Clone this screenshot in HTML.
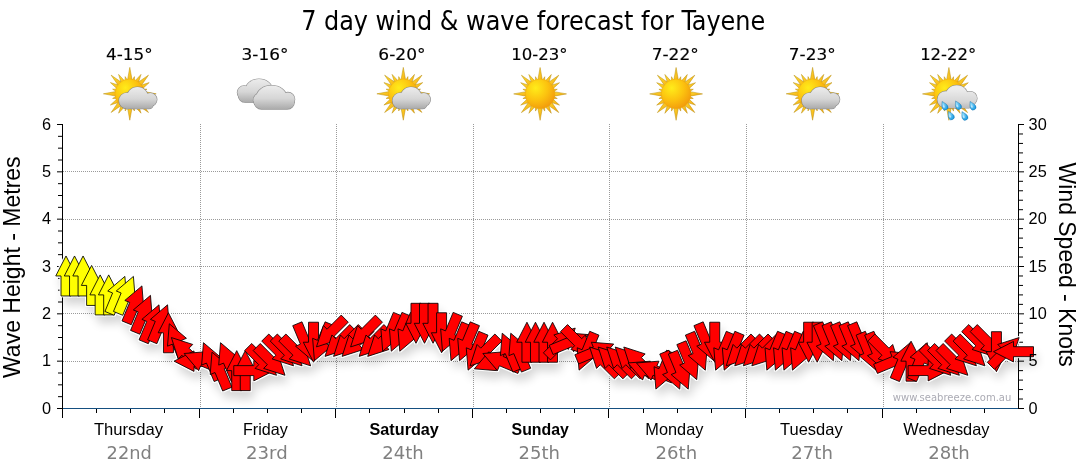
<!DOCTYPE html><html><head><meta charset="utf-8"><title>7 day wind &amp; wave forecast for Tayene</title>
<style>html,body{margin:0;padding:0;background:#fff;}body{width:1080px;height:475px;overflow:hidden;}svg{display:block;}text{font-family:"DejaVu Sans",sans-serif;}.ar{font-family:"Liberation Sans",Arial,sans-serif;}.cond{font-family:"DejaVu Sans",sans-serif;font-stretch:condensed;}</style></head><body>
<svg width="1080" height="475" viewBox="0 0 1080 475">
<defs>
<radialGradient id="sunD" cx="0.35" cy="0.3" r="0.75"><stop offset="0" stop-color="#ffec1a"/><stop offset="0.55" stop-color="#fcc20f"/><stop offset="1" stop-color="#f29a0c"/></radialGradient>
<linearGradient id="rayG" x1="0" y1="0" x2="1" y2="1"><stop offset="0" stop-color="#fde032"/><stop offset="1" stop-color="#f5a50f"/></linearGradient>
<linearGradient id="cloudG" x1="0" y1="0" x2="0" y2="1"><stop offset="0" stop-color="#f4f4f4"/><stop offset="0.6" stop-color="#cfcfcf"/><stop offset="1" stop-color="#a9a9a9"/></linearGradient>
<radialGradient id="dropG" cx="0.4" cy="0.35" r="0.7"><stop offset="0" stop-color="#9be2ff"/><stop offset="1" stop-color="#0e94e0"/></radialGradient>
<filter id="shd" x="-5%" y="-30%" width="110%" height="180%" color-interpolation-filters="sRGB"><feGaussianBlur in="SourceAlpha" stdDeviation="5"/><feOffset dx="3" dy="8" result="b"/><feComponentTransfer in="b" result="c"><feFuncA type="linear" slope="0.17"/></feComponentTransfer><feMorphology in="SourceAlpha" operator="dilate" radius="0.8" result="d"/><feFlood flood-color="#ffffff"/><feComposite in2="d" operator="in" result="h"/><feMerge><feMergeNode in="c"/><feMergeNode in="h"/><feMergeNode in="SourceGraphic"/></feMerge></filter>
</defs>
<text x="533.2" y="29.9" text-anchor="middle" class="cond" font-size="27.3" textLength="464" lengthAdjust="spacingAndGlyphs" fill="#000">7 day wind &amp; wave forecast for Tayene</text>
<text x="129.3" y="59.6" text-anchor="middle" font-size="16.3" stroke="#000" stroke-width="0.15" textLength="46.6" lengthAdjust="spacingAndGlyphs" fill="#000">4-15°</text>
<text x="265.0" y="59.6" text-anchor="middle" font-size="16.3" stroke="#000" stroke-width="0.15" textLength="46.8" lengthAdjust="spacingAndGlyphs" fill="#000">3-16°</text>
<text x="401.9" y="59.6" text-anchor="middle" font-size="16.3" stroke="#000" stroke-width="0.15" textLength="47.2" lengthAdjust="spacingAndGlyphs" fill="#000">6-20°</text>
<text x="539.4" y="59.6" text-anchor="middle" font-size="16.3" stroke="#000" stroke-width="0.15" textLength="56.3" lengthAdjust="spacingAndGlyphs" fill="#000">10-23°</text>
<text x="675.2" y="59.6" text-anchor="middle" font-size="16.3" stroke="#000" stroke-width="0.15" textLength="47.0" lengthAdjust="spacingAndGlyphs" fill="#000">7-22°</text>
<text x="812.2" y="59.6" text-anchor="middle" font-size="16.3" stroke="#000" stroke-width="0.15" textLength="46.8" lengthAdjust="spacingAndGlyphs" fill="#000">7-23°</text>
<text x="948.2" y="59.6" text-anchor="middle" font-size="16.3" stroke="#000" stroke-width="0.15" textLength="56.1" lengthAdjust="spacingAndGlyphs" fill="#000">12-22°</text>
<polygon points="132.80,83.80 129.80,67.40 126.80,83.80" fill="url(#rayG)" stroke="#b88a08" stroke-width="0.7" stroke-opacity="0.7" stroke-linejoin="round"/><polygon points="134.51,84.71 134.41,76.61 130.26,83.57" fill="url(#rayG)" stroke="#b88a08" stroke-width="0.7" stroke-opacity="0.7" stroke-linejoin="round"/><polygon points="137.22,86.54 141.00,74.40 132.38,83.74" fill="url(#rayG)" stroke="#b88a08" stroke-width="0.7" stroke-opacity="0.7" stroke-linejoin="round"/><polygon points="138.99,88.85 148.47,75.13 134.75,84.61" fill="url(#rayG)" stroke="#b88a08" stroke-width="0.7" stroke-opacity="0.7" stroke-linejoin="round"/><polygon points="139.86,91.22 149.20,82.60 137.06,86.38" fill="url(#rayG)" stroke="#b88a08" stroke-width="0.7" stroke-opacity="0.7" stroke-linejoin="round"/><polygon points="140.03,93.34 146.99,89.19 138.89,89.09" fill="url(#rayG)" stroke="#b88a08" stroke-width="0.7" stroke-opacity="0.7" stroke-linejoin="round"/><polygon points="139.80,96.80 156.20,93.80 139.80,90.80" fill="url(#rayG)" stroke="#b88a08" stroke-width="0.7" stroke-opacity="0.7" stroke-linejoin="round"/><polygon points="138.89,98.51 146.99,98.41 140.03,94.26" fill="url(#rayG)" stroke="#b88a08" stroke-width="0.7" stroke-opacity="0.7" stroke-linejoin="round"/><polygon points="137.06,101.22 149.20,105.00 139.86,96.38" fill="url(#rayG)" stroke="#b88a08" stroke-width="0.7" stroke-opacity="0.7" stroke-linejoin="round"/><polygon points="134.75,102.99 148.47,112.47 138.99,98.75" fill="url(#rayG)" stroke="#b88a08" stroke-width="0.7" stroke-opacity="0.7" stroke-linejoin="round"/><polygon points="132.38,103.86 141.00,113.20 137.22,101.06" fill="url(#rayG)" stroke="#b88a08" stroke-width="0.7" stroke-opacity="0.7" stroke-linejoin="round"/><polygon points="130.26,104.03 134.41,110.99 134.51,102.89" fill="url(#rayG)" stroke="#b88a08" stroke-width="0.7" stroke-opacity="0.7" stroke-linejoin="round"/><polygon points="126.80,103.80 129.80,120.20 132.80,103.80" fill="url(#rayG)" stroke="#b88a08" stroke-width="0.7" stroke-opacity="0.7" stroke-linejoin="round"/><polygon points="125.09,102.89 125.19,110.99 129.34,104.03" fill="url(#rayG)" stroke="#b88a08" stroke-width="0.7" stroke-opacity="0.7" stroke-linejoin="round"/><polygon points="122.38,101.06 118.60,113.20 127.22,103.86" fill="url(#rayG)" stroke="#b88a08" stroke-width="0.7" stroke-opacity="0.7" stroke-linejoin="round"/><polygon points="120.61,98.75 111.13,112.47 124.85,102.99" fill="url(#rayG)" stroke="#b88a08" stroke-width="0.7" stroke-opacity="0.7" stroke-linejoin="round"/><polygon points="119.74,96.38 110.40,105.00 122.54,101.22" fill="url(#rayG)" stroke="#b88a08" stroke-width="0.7" stroke-opacity="0.7" stroke-linejoin="round"/><polygon points="119.57,94.26 112.61,98.41 120.71,98.51" fill="url(#rayG)" stroke="#b88a08" stroke-width="0.7" stroke-opacity="0.7" stroke-linejoin="round"/><polygon points="119.80,90.80 103.40,93.80 119.80,96.80" fill="url(#rayG)" stroke="#b88a08" stroke-width="0.7" stroke-opacity="0.7" stroke-linejoin="round"/><polygon points="120.71,89.09 112.61,89.19 119.57,93.34" fill="url(#rayG)" stroke="#b88a08" stroke-width="0.7" stroke-opacity="0.7" stroke-linejoin="round"/><polygon points="122.54,86.38 110.40,82.60 119.74,91.22" fill="url(#rayG)" stroke="#b88a08" stroke-width="0.7" stroke-opacity="0.7" stroke-linejoin="round"/><polygon points="124.85,84.61 111.13,75.13 120.61,88.85" fill="url(#rayG)" stroke="#b88a08" stroke-width="0.7" stroke-opacity="0.7" stroke-linejoin="round"/><polygon points="127.22,83.74 118.60,74.40 122.38,86.54" fill="url(#rayG)" stroke="#b88a08" stroke-width="0.7" stroke-opacity="0.7" stroke-linejoin="round"/><polygon points="129.34,83.57 125.19,76.61 125.09,84.71" fill="url(#rayG)" stroke="#b88a08" stroke-width="0.7" stroke-opacity="0.7" stroke-linejoin="round"/><circle cx="129.8" cy="93.8" r="14.8" fill="url(#sunD)" stroke="#e8a010" stroke-width="0.6" stroke-opacity="0.6"/><linearGradient id="cg1" gradientUnits="userSpaceOnUse" x1="0" y1="87.0" x2="0" y2="108.7"><stop offset="0" stop-color="#ececec"/><stop offset="0.55" stop-color="#d6d6d6"/><stop offset="1" stop-color="#ababab"/></linearGradient><g fill="#808080" stroke="#808080" stroke-width="1.15" stroke-opacity="0.85"><circle cx="127.0" cy="100.7" r="8.0"/><circle cx="137.5" cy="97.8" r="10.8"/><circle cx="150.3" cy="99.6" r="6.6"/><rect x="124.0" y="99.0" width="29.0" height="9.7" rx="4"/></g><g fill="url(#cg1)"><circle cx="127.0" cy="100.7" r="8.0"/><circle cx="137.5" cy="97.8" r="10.8"/><circle cx="150.3" cy="99.6" r="6.6"/><rect x="124.0" y="99.0" width="29.0" height="9.7" rx="4"/></g>
<linearGradient id="cg2" gradientUnits="userSpaceOnUse" x1="0" y1="79.1" x2="0" y2="102.3"><stop offset="0" stop-color="#ececec"/><stop offset="0.55" stop-color="#d6d6d6"/><stop offset="1" stop-color="#ababab"/></linearGradient><g fill="#808080" stroke="#808080" stroke-width="1.15" stroke-opacity="0.85"><rect x="238.30" y="86.99" width="36.20" height="15.31" rx="6.96"/><ellipse cx="258.93" cy="89.54" rx="13.39" ry="10.44"/><circle cx="244.09" cy="92.56" r="6.73"/><circle cx="269.07" cy="93.48" r="6.96"/></g><g fill="url(#cg2)"><rect x="238.30" y="86.99" width="36.20" height="15.31" rx="6.96"/><ellipse cx="258.93" cy="89.54" rx="13.39" ry="10.44"/><circle cx="244.09" cy="92.56" r="6.73"/><circle cx="269.07" cy="93.48" r="6.96"/></g><linearGradient id="cg3" gradientUnits="userSpaceOnUse" x1="0" y1="85.6" x2="0" y2="109.1"><stop offset="0" stop-color="#ececec"/><stop offset="0.55" stop-color="#d6d6d6"/><stop offset="1" stop-color="#ababab"/></linearGradient><g fill="#808080" stroke="#808080" stroke-width="1.15" stroke-opacity="0.85"><rect x="254.40" y="93.59" width="39.90" height="15.51" rx="7.05"/><ellipse cx="271.56" cy="96.17" rx="14.76" ry="10.58"/><circle cx="287.92" cy="99.23" r="6.81"/><circle cx="260.38" cy="100.17" r="7.05"/></g><g fill="url(#cg3)"><rect x="254.40" y="93.59" width="39.90" height="15.51" rx="7.05"/><ellipse cx="271.56" cy="96.17" rx="14.76" ry="10.58"/><circle cx="287.92" cy="99.23" r="6.81"/><circle cx="260.38" cy="100.17" r="7.05"/></g>
<polygon points="406.30,83.80 403.30,67.40 400.30,83.80" fill="url(#rayG)" stroke="#b88a08" stroke-width="0.7" stroke-opacity="0.7" stroke-linejoin="round"/><polygon points="408.01,84.71 407.91,76.61 403.76,83.57" fill="url(#rayG)" stroke="#b88a08" stroke-width="0.7" stroke-opacity="0.7" stroke-linejoin="round"/><polygon points="410.72,86.54 414.50,74.40 405.88,83.74" fill="url(#rayG)" stroke="#b88a08" stroke-width="0.7" stroke-opacity="0.7" stroke-linejoin="round"/><polygon points="412.49,88.85 421.97,75.13 408.25,84.61" fill="url(#rayG)" stroke="#b88a08" stroke-width="0.7" stroke-opacity="0.7" stroke-linejoin="round"/><polygon points="413.36,91.22 422.70,82.60 410.56,86.38" fill="url(#rayG)" stroke="#b88a08" stroke-width="0.7" stroke-opacity="0.7" stroke-linejoin="round"/><polygon points="413.53,93.34 420.49,89.19 412.39,89.09" fill="url(#rayG)" stroke="#b88a08" stroke-width="0.7" stroke-opacity="0.7" stroke-linejoin="round"/><polygon points="413.30,96.80 429.70,93.80 413.30,90.80" fill="url(#rayG)" stroke="#b88a08" stroke-width="0.7" stroke-opacity="0.7" stroke-linejoin="round"/><polygon points="412.39,98.51 420.49,98.41 413.53,94.26" fill="url(#rayG)" stroke="#b88a08" stroke-width="0.7" stroke-opacity="0.7" stroke-linejoin="round"/><polygon points="410.56,101.22 422.70,105.00 413.36,96.38" fill="url(#rayG)" stroke="#b88a08" stroke-width="0.7" stroke-opacity="0.7" stroke-linejoin="round"/><polygon points="408.25,102.99 421.97,112.47 412.49,98.75" fill="url(#rayG)" stroke="#b88a08" stroke-width="0.7" stroke-opacity="0.7" stroke-linejoin="round"/><polygon points="405.88,103.86 414.50,113.20 410.72,101.06" fill="url(#rayG)" stroke="#b88a08" stroke-width="0.7" stroke-opacity="0.7" stroke-linejoin="round"/><polygon points="403.76,104.03 407.91,110.99 408.01,102.89" fill="url(#rayG)" stroke="#b88a08" stroke-width="0.7" stroke-opacity="0.7" stroke-linejoin="round"/><polygon points="400.30,103.80 403.30,120.20 406.30,103.80" fill="url(#rayG)" stroke="#b88a08" stroke-width="0.7" stroke-opacity="0.7" stroke-linejoin="round"/><polygon points="398.59,102.89 398.69,110.99 402.84,104.03" fill="url(#rayG)" stroke="#b88a08" stroke-width="0.7" stroke-opacity="0.7" stroke-linejoin="round"/><polygon points="395.88,101.06 392.10,113.20 400.72,103.86" fill="url(#rayG)" stroke="#b88a08" stroke-width="0.7" stroke-opacity="0.7" stroke-linejoin="round"/><polygon points="394.11,98.75 384.63,112.47 398.35,102.99" fill="url(#rayG)" stroke="#b88a08" stroke-width="0.7" stroke-opacity="0.7" stroke-linejoin="round"/><polygon points="393.24,96.38 383.90,105.00 396.04,101.22" fill="url(#rayG)" stroke="#b88a08" stroke-width="0.7" stroke-opacity="0.7" stroke-linejoin="round"/><polygon points="393.07,94.26 386.11,98.41 394.21,98.51" fill="url(#rayG)" stroke="#b88a08" stroke-width="0.7" stroke-opacity="0.7" stroke-linejoin="round"/><polygon points="393.30,90.80 376.90,93.80 393.30,96.80" fill="url(#rayG)" stroke="#b88a08" stroke-width="0.7" stroke-opacity="0.7" stroke-linejoin="round"/><polygon points="394.21,89.09 386.11,89.19 393.07,93.34" fill="url(#rayG)" stroke="#b88a08" stroke-width="0.7" stroke-opacity="0.7" stroke-linejoin="round"/><polygon points="396.04,86.38 383.90,82.60 393.24,91.22" fill="url(#rayG)" stroke="#b88a08" stroke-width="0.7" stroke-opacity="0.7" stroke-linejoin="round"/><polygon points="398.35,84.61 384.63,75.13 394.11,88.85" fill="url(#rayG)" stroke="#b88a08" stroke-width="0.7" stroke-opacity="0.7" stroke-linejoin="round"/><polygon points="400.72,83.74 392.10,74.40 395.88,86.54" fill="url(#rayG)" stroke="#b88a08" stroke-width="0.7" stroke-opacity="0.7" stroke-linejoin="round"/><polygon points="402.84,83.57 398.69,76.61 398.59,84.71" fill="url(#rayG)" stroke="#b88a08" stroke-width="0.7" stroke-opacity="0.7" stroke-linejoin="round"/><circle cx="403.3" cy="93.8" r="14.8" fill="url(#sunD)" stroke="#e8a010" stroke-width="0.6" stroke-opacity="0.6"/><linearGradient id="cg4" gradientUnits="userSpaceOnUse" x1="0" y1="87.0" x2="0" y2="108.7"><stop offset="0" stop-color="#ececec"/><stop offset="0.55" stop-color="#d6d6d6"/><stop offset="1" stop-color="#ababab"/></linearGradient><g fill="#808080" stroke="#808080" stroke-width="1.15" stroke-opacity="0.85"><circle cx="400.5" cy="100.7" r="8.0"/><circle cx="411.0" cy="97.8" r="10.8"/><circle cx="423.8" cy="99.6" r="6.6"/><rect x="397.5" y="99.0" width="29.0" height="9.7" rx="4"/></g><g fill="url(#cg4)"><circle cx="400.5" cy="100.7" r="8.0"/><circle cx="411.0" cy="97.8" r="10.8"/><circle cx="423.8" cy="99.6" r="6.6"/><rect x="397.5" y="99.0" width="29.0" height="9.7" rx="4"/></g>
<polygon points="543.10,83.90 540.10,67.50 537.10,83.90" fill="url(#rayG)" stroke="#b88a08" stroke-width="0.7" stroke-opacity="0.7" stroke-linejoin="round"/><polygon points="544.81,84.81 544.71,76.71 540.56,83.67" fill="url(#rayG)" stroke="#b88a08" stroke-width="0.7" stroke-opacity="0.7" stroke-linejoin="round"/><polygon points="547.52,86.64 551.30,74.50 542.68,83.84" fill="url(#rayG)" stroke="#b88a08" stroke-width="0.7" stroke-opacity="0.7" stroke-linejoin="round"/><polygon points="549.29,88.95 558.77,75.23 545.05,84.71" fill="url(#rayG)" stroke="#b88a08" stroke-width="0.7" stroke-opacity="0.7" stroke-linejoin="round"/><polygon points="550.16,91.32 559.50,82.70 547.36,86.48" fill="url(#rayG)" stroke="#b88a08" stroke-width="0.7" stroke-opacity="0.7" stroke-linejoin="round"/><polygon points="550.33,93.44 557.29,89.29 549.19,89.19" fill="url(#rayG)" stroke="#b88a08" stroke-width="0.7" stroke-opacity="0.7" stroke-linejoin="round"/><polygon points="550.10,96.90 566.50,93.90 550.10,90.90" fill="url(#rayG)" stroke="#b88a08" stroke-width="0.7" stroke-opacity="0.7" stroke-linejoin="round"/><polygon points="549.19,98.61 557.29,98.51 550.33,94.36" fill="url(#rayG)" stroke="#b88a08" stroke-width="0.7" stroke-opacity="0.7" stroke-linejoin="round"/><polygon points="547.36,101.32 559.50,105.10 550.16,96.48" fill="url(#rayG)" stroke="#b88a08" stroke-width="0.7" stroke-opacity="0.7" stroke-linejoin="round"/><polygon points="545.05,103.09 558.77,112.57 549.29,98.85" fill="url(#rayG)" stroke="#b88a08" stroke-width="0.7" stroke-opacity="0.7" stroke-linejoin="round"/><polygon points="542.68,103.96 551.30,113.30 547.52,101.16" fill="url(#rayG)" stroke="#b88a08" stroke-width="0.7" stroke-opacity="0.7" stroke-linejoin="round"/><polygon points="540.56,104.13 544.71,111.09 544.81,102.99" fill="url(#rayG)" stroke="#b88a08" stroke-width="0.7" stroke-opacity="0.7" stroke-linejoin="round"/><polygon points="537.10,103.90 540.10,120.30 543.10,103.90" fill="url(#rayG)" stroke="#b88a08" stroke-width="0.7" stroke-opacity="0.7" stroke-linejoin="round"/><polygon points="535.39,102.99 535.49,111.09 539.64,104.13" fill="url(#rayG)" stroke="#b88a08" stroke-width="0.7" stroke-opacity="0.7" stroke-linejoin="round"/><polygon points="532.68,101.16 528.90,113.30 537.52,103.96" fill="url(#rayG)" stroke="#b88a08" stroke-width="0.7" stroke-opacity="0.7" stroke-linejoin="round"/><polygon points="530.91,98.85 521.43,112.57 535.15,103.09" fill="url(#rayG)" stroke="#b88a08" stroke-width="0.7" stroke-opacity="0.7" stroke-linejoin="round"/><polygon points="530.04,96.48 520.70,105.10 532.84,101.32" fill="url(#rayG)" stroke="#b88a08" stroke-width="0.7" stroke-opacity="0.7" stroke-linejoin="round"/><polygon points="529.87,94.36 522.91,98.51 531.01,98.61" fill="url(#rayG)" stroke="#b88a08" stroke-width="0.7" stroke-opacity="0.7" stroke-linejoin="round"/><polygon points="530.10,90.90 513.70,93.90 530.10,96.90" fill="url(#rayG)" stroke="#b88a08" stroke-width="0.7" stroke-opacity="0.7" stroke-linejoin="round"/><polygon points="531.01,89.19 522.91,89.29 529.87,93.44" fill="url(#rayG)" stroke="#b88a08" stroke-width="0.7" stroke-opacity="0.7" stroke-linejoin="round"/><polygon points="532.84,86.48 520.70,82.70 530.04,91.32" fill="url(#rayG)" stroke="#b88a08" stroke-width="0.7" stroke-opacity="0.7" stroke-linejoin="round"/><polygon points="535.15,84.71 521.43,75.23 530.91,88.95" fill="url(#rayG)" stroke="#b88a08" stroke-width="0.7" stroke-opacity="0.7" stroke-linejoin="round"/><polygon points="537.52,83.84 528.90,74.50 532.68,86.64" fill="url(#rayG)" stroke="#b88a08" stroke-width="0.7" stroke-opacity="0.7" stroke-linejoin="round"/><polygon points="539.64,83.67 535.49,76.71 535.39,84.81" fill="url(#rayG)" stroke="#b88a08" stroke-width="0.7" stroke-opacity="0.7" stroke-linejoin="round"/><circle cx="540.1" cy="93.9" r="14.8" fill="url(#sunD)" stroke="#e8a010" stroke-width="0.6" stroke-opacity="0.6"/>
<polygon points="679.10,83.90 676.10,67.50 673.10,83.90" fill="url(#rayG)" stroke="#b88a08" stroke-width="0.7" stroke-opacity="0.7" stroke-linejoin="round"/><polygon points="680.81,84.81 680.71,76.71 676.56,83.67" fill="url(#rayG)" stroke="#b88a08" stroke-width="0.7" stroke-opacity="0.7" stroke-linejoin="round"/><polygon points="683.52,86.64 687.30,74.50 678.68,83.84" fill="url(#rayG)" stroke="#b88a08" stroke-width="0.7" stroke-opacity="0.7" stroke-linejoin="round"/><polygon points="685.29,88.95 694.77,75.23 681.05,84.71" fill="url(#rayG)" stroke="#b88a08" stroke-width="0.7" stroke-opacity="0.7" stroke-linejoin="round"/><polygon points="686.16,91.32 695.50,82.70 683.36,86.48" fill="url(#rayG)" stroke="#b88a08" stroke-width="0.7" stroke-opacity="0.7" stroke-linejoin="round"/><polygon points="686.33,93.44 693.29,89.29 685.19,89.19" fill="url(#rayG)" stroke="#b88a08" stroke-width="0.7" stroke-opacity="0.7" stroke-linejoin="round"/><polygon points="686.10,96.90 702.50,93.90 686.10,90.90" fill="url(#rayG)" stroke="#b88a08" stroke-width="0.7" stroke-opacity="0.7" stroke-linejoin="round"/><polygon points="685.19,98.61 693.29,98.51 686.33,94.36" fill="url(#rayG)" stroke="#b88a08" stroke-width="0.7" stroke-opacity="0.7" stroke-linejoin="round"/><polygon points="683.36,101.32 695.50,105.10 686.16,96.48" fill="url(#rayG)" stroke="#b88a08" stroke-width="0.7" stroke-opacity="0.7" stroke-linejoin="round"/><polygon points="681.05,103.09 694.77,112.57 685.29,98.85" fill="url(#rayG)" stroke="#b88a08" stroke-width="0.7" stroke-opacity="0.7" stroke-linejoin="round"/><polygon points="678.68,103.96 687.30,113.30 683.52,101.16" fill="url(#rayG)" stroke="#b88a08" stroke-width="0.7" stroke-opacity="0.7" stroke-linejoin="round"/><polygon points="676.56,104.13 680.71,111.09 680.81,102.99" fill="url(#rayG)" stroke="#b88a08" stroke-width="0.7" stroke-opacity="0.7" stroke-linejoin="round"/><polygon points="673.10,103.90 676.10,120.30 679.10,103.90" fill="url(#rayG)" stroke="#b88a08" stroke-width="0.7" stroke-opacity="0.7" stroke-linejoin="round"/><polygon points="671.39,102.99 671.49,111.09 675.64,104.13" fill="url(#rayG)" stroke="#b88a08" stroke-width="0.7" stroke-opacity="0.7" stroke-linejoin="round"/><polygon points="668.68,101.16 664.90,113.30 673.52,103.96" fill="url(#rayG)" stroke="#b88a08" stroke-width="0.7" stroke-opacity="0.7" stroke-linejoin="round"/><polygon points="666.91,98.85 657.43,112.57 671.15,103.09" fill="url(#rayG)" stroke="#b88a08" stroke-width="0.7" stroke-opacity="0.7" stroke-linejoin="round"/><polygon points="666.04,96.48 656.70,105.10 668.84,101.32" fill="url(#rayG)" stroke="#b88a08" stroke-width="0.7" stroke-opacity="0.7" stroke-linejoin="round"/><polygon points="665.87,94.36 658.91,98.51 667.01,98.61" fill="url(#rayG)" stroke="#b88a08" stroke-width="0.7" stroke-opacity="0.7" stroke-linejoin="round"/><polygon points="666.10,90.90 649.70,93.90 666.10,96.90" fill="url(#rayG)" stroke="#b88a08" stroke-width="0.7" stroke-opacity="0.7" stroke-linejoin="round"/><polygon points="667.01,89.19 658.91,89.29 665.87,93.44" fill="url(#rayG)" stroke="#b88a08" stroke-width="0.7" stroke-opacity="0.7" stroke-linejoin="round"/><polygon points="668.84,86.48 656.70,82.70 666.04,91.32" fill="url(#rayG)" stroke="#b88a08" stroke-width="0.7" stroke-opacity="0.7" stroke-linejoin="round"/><polygon points="671.15,84.71 657.43,75.23 666.91,88.95" fill="url(#rayG)" stroke="#b88a08" stroke-width="0.7" stroke-opacity="0.7" stroke-linejoin="round"/><polygon points="673.52,83.84 664.90,74.50 668.68,86.64" fill="url(#rayG)" stroke="#b88a08" stroke-width="0.7" stroke-opacity="0.7" stroke-linejoin="round"/><polygon points="675.64,83.67 671.49,76.71 671.39,84.81" fill="url(#rayG)" stroke="#b88a08" stroke-width="0.7" stroke-opacity="0.7" stroke-linejoin="round"/><circle cx="676.1" cy="93.9" r="14.8" fill="url(#sunD)" stroke="#e8a010" stroke-width="0.6" stroke-opacity="0.6"/>
<polygon points="815.60,83.80 812.60,67.40 809.60,83.80" fill="url(#rayG)" stroke="#b88a08" stroke-width="0.7" stroke-opacity="0.7" stroke-linejoin="round"/><polygon points="817.31,84.71 817.21,76.61 813.06,83.57" fill="url(#rayG)" stroke="#b88a08" stroke-width="0.7" stroke-opacity="0.7" stroke-linejoin="round"/><polygon points="820.02,86.54 823.80,74.40 815.18,83.74" fill="url(#rayG)" stroke="#b88a08" stroke-width="0.7" stroke-opacity="0.7" stroke-linejoin="round"/><polygon points="821.79,88.85 831.27,75.13 817.55,84.61" fill="url(#rayG)" stroke="#b88a08" stroke-width="0.7" stroke-opacity="0.7" stroke-linejoin="round"/><polygon points="822.66,91.22 832.00,82.60 819.86,86.38" fill="url(#rayG)" stroke="#b88a08" stroke-width="0.7" stroke-opacity="0.7" stroke-linejoin="round"/><polygon points="822.83,93.34 829.79,89.19 821.69,89.09" fill="url(#rayG)" stroke="#b88a08" stroke-width="0.7" stroke-opacity="0.7" stroke-linejoin="round"/><polygon points="822.60,96.80 839.00,93.80 822.60,90.80" fill="url(#rayG)" stroke="#b88a08" stroke-width="0.7" stroke-opacity="0.7" stroke-linejoin="round"/><polygon points="821.69,98.51 829.79,98.41 822.83,94.26" fill="url(#rayG)" stroke="#b88a08" stroke-width="0.7" stroke-opacity="0.7" stroke-linejoin="round"/><polygon points="819.86,101.22 832.00,105.00 822.66,96.38" fill="url(#rayG)" stroke="#b88a08" stroke-width="0.7" stroke-opacity="0.7" stroke-linejoin="round"/><polygon points="817.55,102.99 831.27,112.47 821.79,98.75" fill="url(#rayG)" stroke="#b88a08" stroke-width="0.7" stroke-opacity="0.7" stroke-linejoin="round"/><polygon points="815.18,103.86 823.80,113.20 820.02,101.06" fill="url(#rayG)" stroke="#b88a08" stroke-width="0.7" stroke-opacity="0.7" stroke-linejoin="round"/><polygon points="813.06,104.03 817.21,110.99 817.31,102.89" fill="url(#rayG)" stroke="#b88a08" stroke-width="0.7" stroke-opacity="0.7" stroke-linejoin="round"/><polygon points="809.60,103.80 812.60,120.20 815.60,103.80" fill="url(#rayG)" stroke="#b88a08" stroke-width="0.7" stroke-opacity="0.7" stroke-linejoin="round"/><polygon points="807.89,102.89 807.99,110.99 812.14,104.03" fill="url(#rayG)" stroke="#b88a08" stroke-width="0.7" stroke-opacity="0.7" stroke-linejoin="round"/><polygon points="805.18,101.06 801.40,113.20 810.02,103.86" fill="url(#rayG)" stroke="#b88a08" stroke-width="0.7" stroke-opacity="0.7" stroke-linejoin="round"/><polygon points="803.41,98.75 793.93,112.47 807.65,102.99" fill="url(#rayG)" stroke="#b88a08" stroke-width="0.7" stroke-opacity="0.7" stroke-linejoin="round"/><polygon points="802.54,96.38 793.20,105.00 805.34,101.22" fill="url(#rayG)" stroke="#b88a08" stroke-width="0.7" stroke-opacity="0.7" stroke-linejoin="round"/><polygon points="802.37,94.26 795.41,98.41 803.51,98.51" fill="url(#rayG)" stroke="#b88a08" stroke-width="0.7" stroke-opacity="0.7" stroke-linejoin="round"/><polygon points="802.60,90.80 786.20,93.80 802.60,96.80" fill="url(#rayG)" stroke="#b88a08" stroke-width="0.7" stroke-opacity="0.7" stroke-linejoin="round"/><polygon points="803.51,89.09 795.41,89.19 802.37,93.34" fill="url(#rayG)" stroke="#b88a08" stroke-width="0.7" stroke-opacity="0.7" stroke-linejoin="round"/><polygon points="805.34,86.38 793.20,82.60 802.54,91.22" fill="url(#rayG)" stroke="#b88a08" stroke-width="0.7" stroke-opacity="0.7" stroke-linejoin="round"/><polygon points="807.65,84.61 793.93,75.13 803.41,88.85" fill="url(#rayG)" stroke="#b88a08" stroke-width="0.7" stroke-opacity="0.7" stroke-linejoin="round"/><polygon points="810.02,83.74 801.40,74.40 805.18,86.54" fill="url(#rayG)" stroke="#b88a08" stroke-width="0.7" stroke-opacity="0.7" stroke-linejoin="round"/><polygon points="812.14,83.57 807.99,76.61 807.89,84.71" fill="url(#rayG)" stroke="#b88a08" stroke-width="0.7" stroke-opacity="0.7" stroke-linejoin="round"/><circle cx="812.6" cy="93.8" r="14.8" fill="url(#sunD)" stroke="#e8a010" stroke-width="0.6" stroke-opacity="0.6"/><linearGradient id="cg5" gradientUnits="userSpaceOnUse" x1="0" y1="87.0" x2="0" y2="108.7"><stop offset="0" stop-color="#ececec"/><stop offset="0.55" stop-color="#d6d6d6"/><stop offset="1" stop-color="#ababab"/></linearGradient><g fill="#808080" stroke="#808080" stroke-width="1.15" stroke-opacity="0.85"><circle cx="809.8" cy="100.7" r="8.0"/><circle cx="820.3" cy="97.8" r="10.8"/><circle cx="833.1" cy="99.6" r="6.6"/><rect x="806.8" y="99.0" width="29.0" height="9.7" rx="4"/></g><g fill="url(#cg5)"><circle cx="809.8" cy="100.7" r="8.0"/><circle cx="820.3" cy="97.8" r="10.8"/><circle cx="833.1" cy="99.6" r="6.6"/><rect x="806.8" y="99.0" width="29.0" height="9.7" rx="4"/></g>
<polygon points="951.90,83.90 948.90,67.50 945.90,83.90" fill="url(#rayG)" stroke="#b88a08" stroke-width="0.7" stroke-opacity="0.7" stroke-linejoin="round"/><polygon points="953.61,84.81 953.51,76.71 949.36,83.67" fill="url(#rayG)" stroke="#b88a08" stroke-width="0.7" stroke-opacity="0.7" stroke-linejoin="round"/><polygon points="956.32,86.64 960.10,74.50 951.48,83.84" fill="url(#rayG)" stroke="#b88a08" stroke-width="0.7" stroke-opacity="0.7" stroke-linejoin="round"/><polygon points="958.09,88.95 967.57,75.23 953.85,84.71" fill="url(#rayG)" stroke="#b88a08" stroke-width="0.7" stroke-opacity="0.7" stroke-linejoin="round"/><polygon points="958.96,91.32 968.30,82.70 956.16,86.48" fill="url(#rayG)" stroke="#b88a08" stroke-width="0.7" stroke-opacity="0.7" stroke-linejoin="round"/><polygon points="959.13,93.44 966.09,89.29 957.99,89.19" fill="url(#rayG)" stroke="#b88a08" stroke-width="0.7" stroke-opacity="0.7" stroke-linejoin="round"/><polygon points="958.90,96.90 975.30,93.90 958.90,90.90" fill="url(#rayG)" stroke="#b88a08" stroke-width="0.7" stroke-opacity="0.7" stroke-linejoin="round"/><polygon points="957.99,98.61 966.09,98.51 959.13,94.36" fill="url(#rayG)" stroke="#b88a08" stroke-width="0.7" stroke-opacity="0.7" stroke-linejoin="round"/><polygon points="956.16,101.32 968.30,105.10 958.96,96.48" fill="url(#rayG)" stroke="#b88a08" stroke-width="0.7" stroke-opacity="0.7" stroke-linejoin="round"/><polygon points="953.85,103.09 967.57,112.57 958.09,98.85" fill="url(#rayG)" stroke="#b88a08" stroke-width="0.7" stroke-opacity="0.7" stroke-linejoin="round"/><polygon points="951.48,103.96 960.10,113.30 956.32,101.16" fill="url(#rayG)" stroke="#b88a08" stroke-width="0.7" stroke-opacity="0.7" stroke-linejoin="round"/><polygon points="949.36,104.13 953.51,111.09 953.61,102.99" fill="url(#rayG)" stroke="#b88a08" stroke-width="0.7" stroke-opacity="0.7" stroke-linejoin="round"/><polygon points="945.90,103.90 948.90,120.30 951.90,103.90" fill="url(#rayG)" stroke="#b88a08" stroke-width="0.7" stroke-opacity="0.7" stroke-linejoin="round"/><polygon points="944.19,102.99 944.29,111.09 948.44,104.13" fill="url(#rayG)" stroke="#b88a08" stroke-width="0.7" stroke-opacity="0.7" stroke-linejoin="round"/><polygon points="941.48,101.16 937.70,113.30 946.32,103.96" fill="url(#rayG)" stroke="#b88a08" stroke-width="0.7" stroke-opacity="0.7" stroke-linejoin="round"/><polygon points="939.71,98.85 930.23,112.57 943.95,103.09" fill="url(#rayG)" stroke="#b88a08" stroke-width="0.7" stroke-opacity="0.7" stroke-linejoin="round"/><polygon points="938.84,96.48 929.50,105.10 941.64,101.32" fill="url(#rayG)" stroke="#b88a08" stroke-width="0.7" stroke-opacity="0.7" stroke-linejoin="round"/><polygon points="938.67,94.36 931.71,98.51 939.81,98.61" fill="url(#rayG)" stroke="#b88a08" stroke-width="0.7" stroke-opacity="0.7" stroke-linejoin="round"/><polygon points="938.90,90.90 922.50,93.90 938.90,96.90" fill="url(#rayG)" stroke="#b88a08" stroke-width="0.7" stroke-opacity="0.7" stroke-linejoin="round"/><polygon points="939.81,89.19 931.71,89.29 938.67,93.44" fill="url(#rayG)" stroke="#b88a08" stroke-width="0.7" stroke-opacity="0.7" stroke-linejoin="round"/><polygon points="941.64,86.48 929.50,82.70 938.84,91.32" fill="url(#rayG)" stroke="#b88a08" stroke-width="0.7" stroke-opacity="0.7" stroke-linejoin="round"/><polygon points="943.95,84.71 930.23,75.23 939.71,88.95" fill="url(#rayG)" stroke="#b88a08" stroke-width="0.7" stroke-opacity="0.7" stroke-linejoin="round"/><polygon points="946.32,83.84 937.70,74.50 941.48,86.64" fill="url(#rayG)" stroke="#b88a08" stroke-width="0.7" stroke-opacity="0.7" stroke-linejoin="round"/><polygon points="948.44,83.67 944.29,76.71 944.19,84.81" fill="url(#rayG)" stroke="#b88a08" stroke-width="0.7" stroke-opacity="0.7" stroke-linejoin="round"/><circle cx="948.9" cy="93.9" r="14.8" fill="url(#sunD)" stroke="#e8a010" stroke-width="0.6" stroke-opacity="0.6"/><linearGradient id="cg6" gradientUnits="userSpaceOnUse" x1="0" y1="89.115" x2="0" y2="111.7915"><stop offset="0" stop-color="#ececec"/><stop offset="0.55" stop-color="#d6d6d6"/><stop offset="1" stop-color="#ababab"/></linearGradient><g fill="#808080" stroke="#808080" stroke-width="1.15" stroke-opacity="0.85"><circle cx="945.76" cy="99.52" r="8.36"/><circle cx="956.73" cy="96.49" r="11.29"/><circle cx="970.11" cy="98.37" r="6.9"/><rect x="942.62" y="97.74" width="30.3" height="10.14" rx="4"/></g><g fill="url(#cg6)"><circle cx="945.76" cy="99.52" r="8.36"/><circle cx="956.73" cy="96.49" r="11.29"/><circle cx="970.11" cy="98.37" r="6.9"/><rect x="942.62" y="97.74" width="30.3" height="10.14" rx="4"/></g><g transform="translate(944.5,106) rotate(-28)"><path d="M0,-5.2 C1.2,-3 2.9,-1 2.9,1.3 A2.9,2.9 0 0 1 -2.9,1.3 C-2.9,-1 -1.2,-3 0,-5.2 Z" fill="url(#dropG)" stroke="#1a6aa0" stroke-width="0.5" stroke-opacity="0.7"/><ellipse cx="-0.9" cy="0.2" rx="0.9" ry="1.3" fill="#ffffff" fill-opacity="0.55"/></g><g transform="translate(958,105.5) rotate(-28)"><path d="M0,-5.2 C1.2,-3 2.9,-1 2.9,1.3 A2.9,2.9 0 0 1 -2.9,1.3 C-2.9,-1 -1.2,-3 0,-5.2 Z" fill="url(#dropG)" stroke="#1a6aa0" stroke-width="0.5" stroke-opacity="0.7"/><ellipse cx="-0.9" cy="0.2" rx="0.9" ry="1.3" fill="#ffffff" fill-opacity="0.55"/></g><g transform="translate(972.5,106) rotate(-28)"><path d="M0,-5.2 C1.2,-3 2.9,-1 2.9,1.3 A2.9,2.9 0 0 1 -2.9,1.3 C-2.9,-1 -1.2,-3 0,-5.2 Z" fill="url(#dropG)" stroke="#1a6aa0" stroke-width="0.5" stroke-opacity="0.7"/><ellipse cx="-0.9" cy="0.2" rx="0.9" ry="1.3" fill="#ffffff" fill-opacity="0.55"/></g><g transform="translate(950.8,115.8) rotate(-28)"><path d="M0,-5.2 C1.2,-3 2.9,-1 2.9,1.3 A2.9,2.9 0 0 1 -2.9,1.3 C-2.9,-1 -1.2,-3 0,-5.2 Z" fill="url(#dropG)" stroke="#1a6aa0" stroke-width="0.5" stroke-opacity="0.7"/><ellipse cx="-0.9" cy="0.2" rx="0.9" ry="1.3" fill="#ffffff" fill-opacity="0.55"/></g><g transform="translate(964.4,116.2) rotate(-28)"><path d="M0,-5.2 C1.2,-3 2.9,-1 2.9,1.3 A2.9,2.9 0 0 1 -2.9,1.3 C-2.9,-1 -1.2,-3 0,-5.2 Z" fill="url(#dropG)" stroke="#1a6aa0" stroke-width="0.5" stroke-opacity="0.7"/><ellipse cx="-0.9" cy="0.2" rx="0.9" ry="1.3" fill="#ffffff" fill-opacity="0.55"/></g>
<line x1="200.5" y1="124" x2="200.5" y2="407" stroke="#9a9a9a" stroke-width="1" stroke-dasharray="1,1"/>
<line x1="336.5" y1="124" x2="336.5" y2="407" stroke="#9a9a9a" stroke-width="1" stroke-dasharray="1,1"/>
<line x1="473.5" y1="124" x2="473.5" y2="407" stroke="#9a9a9a" stroke-width="1" stroke-dasharray="1,1"/>
<line x1="609.5" y1="124" x2="609.5" y2="407" stroke="#9a9a9a" stroke-width="1" stroke-dasharray="1,1"/>
<line x1="746.5" y1="124" x2="746.5" y2="407" stroke="#9a9a9a" stroke-width="1" stroke-dasharray="1,1"/>
<line x1="883.5" y1="124" x2="883.5" y2="407" stroke="#9a9a9a" stroke-width="1" stroke-dasharray="1,1"/>
<line x1="63" y1="361.5" x2="1018" y2="361.5" stroke="#9a9a9a" stroke-width="1" stroke-dasharray="1,1"/>
<line x1="63" y1="313.5" x2="1018" y2="313.5" stroke="#9a9a9a" stroke-width="1" stroke-dasharray="1,1"/>
<line x1="63" y1="266.5" x2="1018" y2="266.5" stroke="#9a9a9a" stroke-width="1" stroke-dasharray="1,1"/>
<line x1="63" y1="219.5" x2="1018" y2="219.5" stroke="#9a9a9a" stroke-width="1" stroke-dasharray="1,1"/>
<line x1="63" y1="171.5" x2="1018" y2="171.5" stroke="#9a9a9a" stroke-width="1" stroke-dasharray="1,1"/>
<text x="892.8" y="400.8" font-size="10.2" fill="#ababb4" textLength="118.5" lengthAdjust="spacingAndGlyphs">www.seabreeze.com.au</text>
<g stroke="#000" stroke-width="1" fill="none">
<line x1="62.5" y1="124" x2="62.5" y2="418"/>
<line x1="1018.5" y1="124" x2="1018.5" y2="409"/>
<line x1="57" y1="408.50" x2="62" y2="408.50"/>
<line x1="58" y1="396.67" x2="62" y2="396.67"/>
<line x1="58" y1="384.83" x2="62" y2="384.83"/>
<line x1="58" y1="373.00" x2="62" y2="373.00"/>
<line x1="57" y1="361.17" x2="62" y2="361.17"/>
<line x1="58" y1="349.33" x2="62" y2="349.33"/>
<line x1="58" y1="337.50" x2="62" y2="337.50"/>
<line x1="58" y1="325.67" x2="62" y2="325.67"/>
<line x1="57" y1="313.83" x2="62" y2="313.83"/>
<line x1="58" y1="302.00" x2="62" y2="302.00"/>
<line x1="58" y1="290.17" x2="62" y2="290.17"/>
<line x1="58" y1="278.33" x2="62" y2="278.33"/>
<line x1="57" y1="266.50" x2="62" y2="266.50"/>
<line x1="58" y1="254.67" x2="62" y2="254.67"/>
<line x1="58" y1="242.83" x2="62" y2="242.83"/>
<line x1="58" y1="231.00" x2="62" y2="231.00"/>
<line x1="57" y1="219.17" x2="62" y2="219.17"/>
<line x1="58" y1="207.33" x2="62" y2="207.33"/>
<line x1="58" y1="195.50" x2="62" y2="195.50"/>
<line x1="58" y1="183.67" x2="62" y2="183.67"/>
<line x1="57" y1="171.83" x2="62" y2="171.83"/>
<line x1="58" y1="160.00" x2="62" y2="160.00"/>
<line x1="58" y1="148.17" x2="62" y2="148.17"/>
<line x1="58" y1="136.33" x2="62" y2="136.33"/>
<line x1="57" y1="124.50" x2="62" y2="124.50"/>
<line x1="1019" y1="408.50" x2="1024" y2="408.50"/>
<line x1="1019" y1="399.03" x2="1023" y2="399.03"/>
<line x1="1019" y1="389.57" x2="1023" y2="389.57"/>
<line x1="1019" y1="380.10" x2="1023" y2="380.10"/>
<line x1="1019" y1="370.63" x2="1023" y2="370.63"/>
<line x1="1019" y1="361.17" x2="1024" y2="361.17"/>
<line x1="1019" y1="351.70" x2="1023" y2="351.70"/>
<line x1="1019" y1="342.23" x2="1023" y2="342.23"/>
<line x1="1019" y1="332.77" x2="1023" y2="332.77"/>
<line x1="1019" y1="323.30" x2="1023" y2="323.30"/>
<line x1="1019" y1="313.83" x2="1024" y2="313.83"/>
<line x1="1019" y1="304.37" x2="1023" y2="304.37"/>
<line x1="1019" y1="294.90" x2="1023" y2="294.90"/>
<line x1="1019" y1="285.43" x2="1023" y2="285.43"/>
<line x1="1019" y1="275.97" x2="1023" y2="275.97"/>
<line x1="1019" y1="266.50" x2="1024" y2="266.50"/>
<line x1="1019" y1="257.03" x2="1023" y2="257.03"/>
<line x1="1019" y1="247.57" x2="1023" y2="247.57"/>
<line x1="1019" y1="238.10" x2="1023" y2="238.10"/>
<line x1="1019" y1="228.63" x2="1023" y2="228.63"/>
<line x1="1019" y1="219.17" x2="1024" y2="219.17"/>
<line x1="1019" y1="209.70" x2="1023" y2="209.70"/>
<line x1="1019" y1="200.23" x2="1023" y2="200.23"/>
<line x1="1019" y1="190.77" x2="1023" y2="190.77"/>
<line x1="1019" y1="181.30" x2="1023" y2="181.30"/>
<line x1="1019" y1="171.83" x2="1024" y2="171.83"/>
<line x1="1019" y1="162.37" x2="1023" y2="162.37"/>
<line x1="1019" y1="152.90" x2="1023" y2="152.90"/>
<line x1="1019" y1="143.43" x2="1023" y2="143.43"/>
<line x1="1019" y1="133.97" x2="1023" y2="133.97"/>
<line x1="1019" y1="124.50" x2="1024" y2="124.50"/>
<line x1="96.5" y1="409" x2="96.5" y2="413"/>
<line x1="130.5" y1="409" x2="130.5" y2="413"/>
<line x1="164.5" y1="409" x2="164.5" y2="413"/>
<line x1="199.5" y1="409" x2="199.5" y2="418"/>
<line x1="233.5" y1="409" x2="233.5" y2="413"/>
<line x1="267.5" y1="409" x2="267.5" y2="413"/>
<line x1="301.5" y1="409" x2="301.5" y2="413"/>
<line x1="335.5" y1="409" x2="335.5" y2="418"/>
<line x1="369.5" y1="409" x2="369.5" y2="413"/>
<line x1="404.5" y1="409" x2="404.5" y2="413"/>
<line x1="438.5" y1="409" x2="438.5" y2="413"/>
<line x1="472.5" y1="409" x2="472.5" y2="418"/>
<line x1="506.5" y1="409" x2="506.5" y2="413"/>
<line x1="540.5" y1="409" x2="540.5" y2="413"/>
<line x1="574.5" y1="409" x2="574.5" y2="413"/>
<line x1="608.5" y1="409" x2="608.5" y2="418"/>
<line x1="643.5" y1="409" x2="643.5" y2="413"/>
<line x1="677.5" y1="409" x2="677.5" y2="413"/>
<line x1="711.5" y1="409" x2="711.5" y2="413"/>
<line x1="745.5" y1="409" x2="745.5" y2="418"/>
<line x1="779.5" y1="409" x2="779.5" y2="413"/>
<line x1="813.5" y1="409" x2="813.5" y2="413"/>
<line x1="847.5" y1="409" x2="847.5" y2="413"/>
<line x1="882.5" y1="409" x2="882.5" y2="418"/>
<line x1="916.5" y1="409" x2="916.5" y2="413"/>
<line x1="950.5" y1="409" x2="950.5" y2="413"/>
<line x1="984.5" y1="409" x2="984.5" y2="413"/>
</g>
<line x1="63" y1="408.5" x2="1018" y2="408.5" stroke="#154f80" stroke-width="1"/>
<g filter="url(#shd)">
<polygon points="66.00,255.97 76.25,275.97 71.00,275.97 71.00,295.97 61.00,295.97 61.00,275.97 55.75,275.97" fill="#ffff00" stroke="#000" stroke-width="0.85" stroke-linejoin="miter"/>
<polygon points="74.54,255.97 84.79,275.97 79.54,275.97 79.54,295.97 69.54,295.97 69.54,275.97 64.29,275.97" fill="#ffff00" stroke="#000" stroke-width="0.85" stroke-linejoin="miter"/>
<polygon points="83.07,255.97 93.32,275.97 88.07,275.97 88.07,295.97 78.07,295.97 78.07,275.97 72.82,275.97" fill="#ffff00" stroke="#000" stroke-width="0.85" stroke-linejoin="miter"/>
<polygon points="91.61,265.43 101.86,285.43 96.61,285.43 96.61,305.43 86.61,305.43 86.61,285.43 81.36,285.43" fill="#ffff00" stroke="#000" stroke-width="0.85" stroke-linejoin="miter"/>
<polygon points="100.14,274.90 110.39,294.90 105.14,294.90 105.14,314.90 95.14,314.90 95.14,294.90 89.89,294.90" fill="#ffff00" stroke="#000" stroke-width="0.85" stroke-linejoin="miter"/>
<polygon points="108.68,274.90 118.93,294.90 113.68,294.90 113.68,314.90 103.68,314.90 103.68,294.90 98.43,294.90" fill="#ffff00" stroke="#000" stroke-width="0.85" stroke-linejoin="miter"/>
<polygon points="124.87,276.42 126.69,298.82 121.84,296.81 114.18,315.29 104.94,311.46 112.60,292.99 107.75,290.98" fill="#ffff00" stroke="#000" stroke-width="0.85" stroke-linejoin="miter"/>
<polygon points="133.41,276.42 135.22,298.82 130.37,296.81 122.72,315.29 113.48,311.46 121.13,292.99 116.28,290.98" fill="#ffff00" stroke="#000" stroke-width="0.85" stroke-linejoin="miter"/>
<polygon points="141.94,285.89 143.76,308.29 138.91,306.28 131.25,324.76 122.01,320.93 129.67,302.45 124.82,300.44" fill="#ff0000" stroke="#000" stroke-width="0.85" stroke-linejoin="miter"/>
<polygon points="150.48,295.36 152.29,317.76 147.44,315.75 139.79,334.22 130.55,330.40 138.20,311.92 133.35,309.91" fill="#ff0000" stroke="#000" stroke-width="0.85" stroke-linejoin="miter"/>
<polygon points="159.01,304.82 160.83,327.22 155.98,325.21 148.33,343.69 139.09,339.86 146.74,321.39 141.89,319.38" fill="#ff0000" stroke="#000" stroke-width="0.85" stroke-linejoin="miter"/>
<polygon points="167.55,304.82 169.37,327.22 164.52,325.21 156.86,343.69 147.62,339.86 155.28,321.39 150.43,319.38" fill="#ff0000" stroke="#000" stroke-width="0.85" stroke-linejoin="miter"/>
<polygon points="168.43,312.77 178.68,332.77 173.43,332.77 173.43,352.77 163.43,352.77 163.43,332.77 158.18,332.77" fill="#ff0000" stroke="#000" stroke-width="0.85" stroke-linejoin="miter"/>
<polygon points="169.31,323.76 186.44,338.31 181.59,340.32 189.24,358.80 180.00,362.62 172.35,344.15 167.50,346.16" fill="#ff0000" stroke="#000" stroke-width="0.85" stroke-linejoin="miter"/>
<polygon points="171.36,337.56 192.75,344.45 189.04,348.16 203.18,362.31 196.11,369.38 181.97,355.24 178.26,358.95" fill="#ff0000" stroke="#000" stroke-width="0.85" stroke-linejoin="miter"/>
<polygon points="174.04,361.17 194.04,350.92 194.04,356.17 214.04,356.17 214.04,366.17 194.04,366.17 194.04,371.42" fill="#ff0000" stroke="#000" stroke-width="0.85" stroke-linejoin="miter"/>
<polygon points="184.10,353.51 206.50,351.70 204.49,356.55 222.97,364.20 219.14,373.44 200.66,365.79 198.65,370.64" fill="#ff0000" stroke="#000" stroke-width="0.85" stroke-linejoin="miter"/>
<polygon points="203.46,342.69 220.58,357.24 215.73,359.25 223.39,377.73 214.15,381.56 206.49,363.08 201.64,365.09" fill="#ff0000" stroke="#000" stroke-width="0.85" stroke-linejoin="miter"/>
<polygon points="211.99,352.16 229.12,366.71 224.27,368.72 231.92,387.20 222.68,391.02 215.03,372.55 210.18,374.56" fill="#ff0000" stroke="#000" stroke-width="0.85" stroke-linejoin="miter"/>
<polygon points="220.53,342.69 237.65,357.24 232.80,359.25 240.46,377.73 231.22,381.56 223.56,363.08 218.71,365.09" fill="#ff0000" stroke="#000" stroke-width="0.85" stroke-linejoin="miter"/>
<polygon points="236.72,350.63 246.97,370.63 241.72,370.63 241.72,390.63 231.72,390.63 231.72,370.63 226.47,370.63" fill="#ff0000" stroke="#000" stroke-width="0.85" stroke-linejoin="miter"/>
<polygon points="245.26,350.63 255.51,370.63 250.26,370.63 250.26,390.63 240.26,390.63 240.26,370.63 235.01,370.63" fill="#ff0000" stroke="#000" stroke-width="0.85" stroke-linejoin="miter"/>
<polygon points="273.79,370.63 253.79,380.88 253.79,375.63 233.79,375.63 233.79,365.63 253.79,365.63 253.79,360.38" fill="#ff0000" stroke="#000" stroke-width="0.85" stroke-linejoin="miter"/>
<polygon points="276.47,375.31 255.08,368.41 258.79,364.70 244.65,350.56 251.72,343.49 265.86,357.63 269.58,353.92" fill="#ff0000" stroke="#000" stroke-width="0.85" stroke-linejoin="miter"/>
<polygon points="285.01,375.31 263.62,368.41 267.33,364.70 253.19,350.56 260.26,343.49 274.40,357.63 278.11,353.92" fill="#ff0000" stroke="#000" stroke-width="0.85" stroke-linejoin="miter"/>
<polygon points="293.54,365.84 272.15,358.95 275.86,355.24 261.72,341.09 268.79,334.02 282.94,348.16 286.65,344.45" fill="#ff0000" stroke="#000" stroke-width="0.85" stroke-linejoin="miter"/>
<polygon points="302.08,365.84 280.69,358.95 284.40,355.24 270.26,341.09 277.33,334.02 291.47,348.16 295.18,344.45" fill="#ff0000" stroke="#000" stroke-width="0.85" stroke-linejoin="miter"/>
<polygon points="310.61,365.84 289.22,358.95 292.94,355.24 278.79,341.09 285.87,334.02 300.01,348.16 303.72,344.45" fill="#ff0000" stroke="#000" stroke-width="0.85" stroke-linejoin="miter"/>
<polygon points="312.66,360.71 295.54,346.16 300.39,344.15 292.73,325.67 301.97,321.84 309.63,340.32 314.48,338.31" fill="#ff0000" stroke="#000" stroke-width="0.85" stroke-linejoin="miter"/>
<polygon points="313.54,362.23 303.29,342.23 308.54,342.23 308.54,322.23 318.54,322.23 318.54,342.23 323.79,342.23" fill="#ff0000" stroke="#000" stroke-width="0.85" stroke-linejoin="miter"/>
<polygon points="314.43,360.71 312.61,338.31 317.46,340.32 325.11,321.84 334.35,325.67 326.70,344.15 331.55,346.16" fill="#ff0000" stroke="#000" stroke-width="0.85" stroke-linejoin="miter"/>
<polygon points="316.47,346.91 323.37,325.52 327.08,329.23 341.22,315.09 348.29,322.16 334.15,336.30 337.86,340.01" fill="#ff0000" stroke="#000" stroke-width="0.85" stroke-linejoin="miter"/>
<polygon points="325.01,356.38 331.90,334.99 335.62,338.70 349.76,324.56 356.83,331.63 342.69,345.77 346.40,349.48" fill="#ff0000" stroke="#000" stroke-width="0.85" stroke-linejoin="miter"/>
<polygon points="333.55,356.38 340.44,334.99 344.15,338.70 358.29,324.56 365.37,331.63 351.22,345.77 354.94,349.48" fill="#ff0000" stroke="#000" stroke-width="0.85" stroke-linejoin="miter"/>
<polygon points="342.08,356.38 348.98,334.99 352.69,338.70 366.83,324.56 373.90,331.63 359.76,345.77 363.47,349.48" fill="#ff0000" stroke="#000" stroke-width="0.85" stroke-linejoin="miter"/>
<polygon points="350.62,346.91 357.51,325.52 361.22,329.23 375.37,315.09 382.44,322.16 368.30,336.30 372.01,340.01" fill="#ff0000" stroke="#000" stroke-width="0.85" stroke-linejoin="miter"/>
<polygon points="359.15,356.38 366.05,334.99 369.76,338.70 383.90,324.56 390.97,331.63 376.83,345.77 380.54,349.48" fill="#ff0000" stroke="#000" stroke-width="0.85" stroke-linejoin="miter"/>
<polygon points="367.69,356.38 374.58,334.99 378.30,338.70 392.44,324.56 399.51,331.63 385.37,345.77 389.08,349.48" fill="#ff0000" stroke="#000" stroke-width="0.85" stroke-linejoin="miter"/>
<polygon points="382.71,351.24 380.90,328.84 385.75,330.85 393.40,312.38 402.64,316.20 394.99,334.68 399.84,336.69" fill="#ff0000" stroke="#000" stroke-width="0.85" stroke-linejoin="miter"/>
<polygon points="391.25,351.24 389.43,328.84 394.28,330.85 401.94,312.38 411.18,316.20 403.52,334.68 408.37,336.69" fill="#ff0000" stroke="#000" stroke-width="0.85" stroke-linejoin="miter"/>
<polygon points="399.79,351.24 397.97,328.84 402.82,330.85 410.47,312.38 419.71,316.20 412.06,334.68 416.91,336.69" fill="#ff0000" stroke="#000" stroke-width="0.85" stroke-linejoin="miter"/>
<polygon points="415.98,343.30 405.73,323.30 410.98,323.30 410.98,303.30 420.98,303.30 420.98,323.30 426.23,323.30" fill="#ff0000" stroke="#000" stroke-width="0.85" stroke-linejoin="miter"/>
<polygon points="424.51,343.30 414.26,323.30 419.51,323.30 419.51,303.30 429.51,303.30 429.51,323.30 434.76,323.30" fill="#ff0000" stroke="#000" stroke-width="0.85" stroke-linejoin="miter"/>
<polygon points="433.05,343.30 422.80,323.30 428.05,323.30 428.05,303.30 438.05,303.30 438.05,323.30 443.30,323.30" fill="#ff0000" stroke="#000" stroke-width="0.85" stroke-linejoin="miter"/>
<polygon points="441.58,352.77 431.33,332.77 436.58,332.77 436.58,312.77 446.58,312.77 446.58,332.77 451.83,332.77" fill="#ff0000" stroke="#000" stroke-width="0.85" stroke-linejoin="miter"/>
<polygon points="442.47,351.24 440.65,328.84 445.50,330.85 453.15,312.38 462.39,316.20 454.74,334.68 459.59,336.69" fill="#ff0000" stroke="#000" stroke-width="0.85" stroke-linejoin="miter"/>
<polygon points="451.00,360.71 449.19,338.31 454.04,340.32 461.69,321.84 470.93,325.67 463.28,344.15 468.13,346.16" fill="#ff0000" stroke="#000" stroke-width="0.85" stroke-linejoin="miter"/>
<polygon points="459.54,360.71 457.72,338.31 462.57,340.32 470.23,321.84 479.47,325.67 471.81,344.15 476.66,346.16" fill="#ff0000" stroke="#000" stroke-width="0.85" stroke-linejoin="miter"/>
<polygon points="468.07,370.18 466.26,347.78 471.11,349.79 478.76,331.31 488.00,335.14 480.35,353.61 485.20,355.62" fill="#ff0000" stroke="#000" stroke-width="0.85" stroke-linejoin="miter"/>
<polygon points="470.12,365.84 477.02,344.45 480.73,348.16 494.87,334.02 501.94,341.09 487.80,355.24 491.51,358.95" fill="#ff0000" stroke="#000" stroke-width="0.85" stroke-linejoin="miter"/>
<polygon points="474.32,368.82 488.88,351.70 490.89,356.55 509.36,348.89 513.19,358.13 494.71,365.79 496.72,370.64" fill="#ff0000" stroke="#000" stroke-width="0.85" stroke-linejoin="miter"/>
<polygon points="482.86,353.51 505.26,351.70 503.25,356.55 521.73,364.20 517.90,373.44 499.42,365.79 497.41,370.64" fill="#ff0000" stroke="#000" stroke-width="0.85" stroke-linejoin="miter"/>
<polygon points="502.22,333.22 519.34,347.78 514.49,349.79 522.15,368.26 512.91,372.09 505.25,353.61 500.40,355.62" fill="#ff0000" stroke="#000" stroke-width="0.85" stroke-linejoin="miter"/>
<polygon points="510.75,333.22 527.88,347.78 523.03,349.79 530.68,368.26 521.44,372.09 513.79,353.61 508.94,355.62" fill="#ff0000" stroke="#000" stroke-width="0.85" stroke-linejoin="miter"/>
<polygon points="526.94,322.23 537.19,342.23 531.94,342.23 531.94,362.23 521.94,362.23 521.94,342.23 516.69,342.23" fill="#ff0000" stroke="#000" stroke-width="0.85" stroke-linejoin="miter"/>
<polygon points="535.48,322.23 545.73,342.23 540.48,342.23 540.48,362.23 530.48,362.23 530.48,342.23 525.23,342.23" fill="#ff0000" stroke="#000" stroke-width="0.85" stroke-linejoin="miter"/>
<polygon points="544.02,322.23 554.27,342.23 549.02,342.23 549.02,362.23 539.02,362.23 539.02,342.23 533.77,342.23" fill="#ff0000" stroke="#000" stroke-width="0.85" stroke-linejoin="miter"/>
<polygon points="552.55,322.23 562.80,342.23 557.55,342.23 557.55,362.23 547.55,362.23 547.55,342.23 542.30,342.23" fill="#ff0000" stroke="#000" stroke-width="0.85" stroke-linejoin="miter"/>
<polygon points="575.23,328.09 568.34,349.48 564.62,345.77 550.48,359.91 543.41,352.84 557.55,338.70 553.84,334.99" fill="#ff0000" stroke="#000" stroke-width="0.85" stroke-linejoin="miter"/>
<polygon points="588.10,334.58 573.55,351.70 571.54,346.85 553.06,354.51 549.23,345.27 567.71,337.61 565.70,332.76" fill="#ff0000" stroke="#000" stroke-width="0.85" stroke-linejoin="miter"/>
<polygon points="592.30,356.38 570.91,349.48 574.62,345.77 560.48,331.63 567.55,324.56 581.70,338.70 585.41,334.99" fill="#ff0000" stroke="#000" stroke-width="0.85" stroke-linejoin="miter"/>
<polygon points="579.04,370.18 577.23,347.78 582.08,349.79 589.73,331.31 598.97,335.14 591.32,353.61 596.17,355.62" fill="#ff0000" stroke="#000" stroke-width="0.85" stroke-linejoin="miter"/>
<polygon points="613.71,344.05 599.15,361.17 597.15,356.32 578.67,363.97 574.84,354.73 593.32,347.08 591.31,342.23" fill="#ff0000" stroke="#000" stroke-width="0.85" stroke-linejoin="miter"/>
<polygon points="589.63,347.02 611.02,353.92 607.30,357.63 621.45,371.77 614.37,378.84 600.23,364.70 596.52,368.41" fill="#ff0000" stroke="#000" stroke-width="0.85" stroke-linejoin="miter"/>
<polygon points="598.16,347.02 619.55,353.92 615.84,357.63 629.98,371.77 622.91,378.84 608.77,364.70 605.06,368.41" fill="#ff0000" stroke="#000" stroke-width="0.85" stroke-linejoin="miter"/>
<polygon points="606.70,347.02 628.09,353.92 624.38,357.63 638.52,371.77 631.45,378.84 617.30,364.70 613.59,368.41" fill="#ff0000" stroke="#000" stroke-width="0.85" stroke-linejoin="miter"/>
<polygon points="615.23,347.02 636.62,353.92 632.91,357.63 647.05,371.77 639.98,378.84 625.84,364.70 622.13,368.41" fill="#ff0000" stroke="#000" stroke-width="0.85" stroke-linejoin="miter"/>
<polygon points="623.77,347.02 645.16,353.92 641.45,357.63 655.59,371.77 648.52,378.84 634.38,364.70 630.66,368.41" fill="#ff0000" stroke="#000" stroke-width="0.85" stroke-linejoin="miter"/>
<polygon points="627.97,362.98 650.37,361.16 648.36,366.01 666.84,373.67 663.01,382.91 644.53,375.25 642.53,380.10" fill="#ff0000" stroke="#000" stroke-width="0.85" stroke-linejoin="miter"/>
<polygon points="636.51,362.98 658.91,361.16 656.90,366.01 675.38,373.67 671.55,382.91 653.07,375.25 651.06,380.10" fill="#ff0000" stroke="#000" stroke-width="0.85" stroke-linejoin="miter"/>
<polygon points="655.87,389.11 654.05,366.71 658.90,368.72 666.55,350.24 675.79,354.07 668.14,372.55 672.99,374.56" fill="#ff0000" stroke="#000" stroke-width="0.85" stroke-linejoin="miter"/>
<polygon points="679.71,389.11 662.59,374.56 667.44,372.55 659.78,354.07 669.02,350.24 676.68,368.72 681.53,366.71" fill="#ff0000" stroke="#000" stroke-width="0.85" stroke-linejoin="miter"/>
<polygon points="688.25,389.11 671.12,374.56 675.97,372.55 668.32,354.07 677.56,350.24 685.21,368.72 690.06,366.71" fill="#ff0000" stroke="#000" stroke-width="0.85" stroke-linejoin="miter"/>
<polygon points="696.78,379.64 679.66,365.09 684.51,363.08 676.85,344.60 686.09,340.78 693.75,359.25 698.60,357.24" fill="#ff0000" stroke="#000" stroke-width="0.85" stroke-linejoin="miter"/>
<polygon points="705.32,370.18 688.19,355.62 693.04,353.61 685.39,335.14 694.63,331.31 702.28,349.79 707.13,347.78" fill="#ff0000" stroke="#000" stroke-width="0.85" stroke-linejoin="miter"/>
<polygon points="713.85,360.71 696.73,346.16 701.58,344.15 693.93,325.67 703.17,321.84 710.82,340.32 715.67,338.31" fill="#ff0000" stroke="#000" stroke-width="0.85" stroke-linejoin="miter"/>
<polygon points="714.74,362.23 704.49,342.23 709.74,342.23 709.74,322.23 719.74,322.23 719.74,342.23 724.99,342.23" fill="#ff0000" stroke="#000" stroke-width="0.85" stroke-linejoin="miter"/>
<polygon points="715.62,370.18 713.80,347.78 718.65,349.79 726.31,331.31 735.55,335.14 727.89,353.61 732.74,355.62" fill="#ff0000" stroke="#000" stroke-width="0.85" stroke-linejoin="miter"/>
<polygon points="724.15,370.18 722.34,347.78 727.19,349.79 734.84,331.31 744.08,335.14 736.43,353.61 741.28,355.62" fill="#ff0000" stroke="#000" stroke-width="0.85" stroke-linejoin="miter"/>
<polygon points="726.20,365.84 733.10,344.45 736.81,348.16 750.95,334.02 758.02,341.09 743.88,355.24 747.59,358.95" fill="#ff0000" stroke="#000" stroke-width="0.85" stroke-linejoin="miter"/>
<polygon points="734.74,365.84 741.63,344.45 745.34,348.16 759.49,334.02 766.56,341.09 752.42,355.24 756.13,358.95" fill="#ff0000" stroke="#000" stroke-width="0.85" stroke-linejoin="miter"/>
<polygon points="743.27,365.84 750.17,344.45 753.88,348.16 768.02,334.02 775.09,341.09 760.95,355.24 764.66,358.95" fill="#ff0000" stroke="#000" stroke-width="0.85" stroke-linejoin="miter"/>
<polygon points="751.81,365.84 758.70,344.45 762.42,348.16 776.56,334.02 783.63,341.09 769.49,355.24 773.20,358.95" fill="#ff0000" stroke="#000" stroke-width="0.85" stroke-linejoin="miter"/>
<polygon points="766.83,370.18 765.02,347.78 769.87,349.79 777.52,331.31 786.76,335.14 779.11,353.61 783.96,355.62" fill="#ff0000" stroke="#000" stroke-width="0.85" stroke-linejoin="miter"/>
<polygon points="775.37,370.18 773.55,347.78 778.40,349.79 786.06,331.31 795.30,335.14 787.64,353.61 792.49,355.62" fill="#ff0000" stroke="#000" stroke-width="0.85" stroke-linejoin="miter"/>
<polygon points="783.91,370.18 782.09,347.78 786.94,349.79 794.59,331.31 803.83,335.14 796.18,353.61 801.03,355.62" fill="#ff0000" stroke="#000" stroke-width="0.85" stroke-linejoin="miter"/>
<polygon points="792.44,370.18 790.63,347.78 795.48,349.79 803.13,331.31 812.37,335.14 804.72,353.61 809.57,355.62" fill="#ff0000" stroke="#000" stroke-width="0.85" stroke-linejoin="miter"/>
<polygon points="808.63,362.23 798.38,342.23 803.63,342.23 803.63,322.23 813.63,322.23 813.63,342.23 818.88,342.23" fill="#ff0000" stroke="#000" stroke-width="0.85" stroke-linejoin="miter"/>
<polygon points="817.17,362.23 806.92,342.23 812.17,342.23 812.17,322.23 822.17,322.23 822.17,342.23 827.42,342.23" fill="#ff0000" stroke="#000" stroke-width="0.85" stroke-linejoin="miter"/>
<polygon points="833.36,360.71 816.23,346.16 821.08,344.15 813.43,325.67 822.67,321.84 830.32,340.32 835.17,338.31" fill="#ff0000" stroke="#000" stroke-width="0.85" stroke-linejoin="miter"/>
<polygon points="841.89,360.71 824.77,346.16 829.62,344.15 821.97,325.67 831.21,321.84 838.86,340.32 843.71,338.31" fill="#ff0000" stroke="#000" stroke-width="0.85" stroke-linejoin="miter"/>
<polygon points="850.43,360.71 833.31,346.16 838.16,344.15 830.50,325.67 839.74,321.84 847.40,340.32 852.25,338.31" fill="#ff0000" stroke="#000" stroke-width="0.85" stroke-linejoin="miter"/>
<polygon points="858.97,360.71 841.84,346.16 846.69,344.15 839.04,325.67 848.28,321.84 855.93,340.32 860.78,338.31" fill="#ff0000" stroke="#000" stroke-width="0.85" stroke-linejoin="miter"/>
<polygon points="867.50,360.71 850.38,346.16 855.23,344.15 847.57,325.67 856.81,321.84 864.47,340.32 869.32,338.31" fill="#ff0000" stroke="#000" stroke-width="0.85" stroke-linejoin="miter"/>
<polygon points="876.04,370.18 858.91,355.62 863.76,353.61 856.11,335.14 865.35,331.31 873.00,349.79 877.85,347.78" fill="#ff0000" stroke="#000" stroke-width="0.85" stroke-linejoin="miter"/>
<polygon points="884.57,370.18 867.45,355.62 872.30,353.61 864.65,335.14 873.89,331.31 881.54,349.79 886.39,347.78" fill="#ff0000" stroke="#000" stroke-width="0.85" stroke-linejoin="miter"/>
<polygon points="899.60,365.84 878.21,358.95 881.92,355.24 867.78,341.09 874.85,334.02 888.99,348.16 892.70,344.45" fill="#ff0000" stroke="#000" stroke-width="0.85" stroke-linejoin="miter"/>
<polygon points="912.47,353.51 897.91,370.64 895.91,365.79 877.43,373.44 873.60,364.20 892.08,356.55 890.07,351.70" fill="#ff0000" stroke="#000" stroke-width="0.85" stroke-linejoin="miter"/>
<polygon points="910.18,342.69 912.00,365.09 907.15,363.08 899.49,381.56 890.25,377.73 897.91,359.25 893.06,357.24" fill="#ff0000" stroke="#000" stroke-width="0.85" stroke-linejoin="miter"/>
<polygon points="911.06,341.17 921.31,361.17 916.06,361.17 916.06,381.17 906.06,381.17 906.06,361.17 900.81,361.17" fill="#ff0000" stroke="#000" stroke-width="0.85" stroke-linejoin="miter"/>
<polygon points="927.25,342.69 929.07,365.09 924.22,363.08 916.57,381.56 907.33,377.73 914.98,359.25 910.13,357.24" fill="#ff0000" stroke="#000" stroke-width="0.85" stroke-linejoin="miter"/>
<polygon points="948.14,370.63 928.14,380.88 928.14,375.63 908.14,375.63 908.14,365.63 928.14,365.63 928.14,360.38" fill="#ff0000" stroke="#000" stroke-width="0.85" stroke-linejoin="miter"/>
<polygon points="950.81,375.31 929.42,368.41 933.14,364.70 918.99,350.56 926.07,343.49 940.21,357.63 943.92,353.92" fill="#ff0000" stroke="#000" stroke-width="0.85" stroke-linejoin="miter"/>
<polygon points="959.35,375.31 937.96,368.41 941.67,364.70 927.53,350.56 934.60,343.49 948.74,357.63 952.46,353.92" fill="#ff0000" stroke="#000" stroke-width="0.85" stroke-linejoin="miter"/>
<polygon points="967.89,375.31 946.50,368.41 950.21,364.70 936.07,350.56 943.14,343.49 957.28,357.63 960.99,353.92" fill="#ff0000" stroke="#000" stroke-width="0.85" stroke-linejoin="miter"/>
<polygon points="976.42,365.84 955.03,358.95 958.74,355.24 944.60,341.09 951.67,334.02 965.82,348.16 969.53,344.45" fill="#ff0000" stroke="#000" stroke-width="0.85" stroke-linejoin="miter"/>
<polygon points="984.96,365.84 963.57,358.95 967.28,355.24 953.14,341.09 960.21,334.02 974.35,348.16 978.06,344.45" fill="#ff0000" stroke="#000" stroke-width="0.85" stroke-linejoin="miter"/>
<polygon points="993.49,356.38 972.10,349.48 975.82,345.77 961.67,331.63 968.75,324.56 982.89,338.70 986.60,334.99" fill="#ff0000" stroke="#000" stroke-width="0.85" stroke-linejoin="miter"/>
<polygon points="1002.03,356.38 980.64,349.48 984.35,345.77 970.21,331.63 977.28,324.56 991.42,338.70 995.14,334.99" fill="#ff0000" stroke="#000" stroke-width="0.85" stroke-linejoin="miter"/>
<polygon points="996.42,371.70 986.17,351.70 991.42,351.70 991.42,331.70 1001.42,331.70 1001.42,351.70 1006.67,351.70" fill="#ff0000" stroke="#000" stroke-width="0.85" stroke-linejoin="miter"/>
<polygon points="1019.10,337.56 1012.21,358.95 1008.50,355.24 994.35,369.38 987.28,362.31 1001.42,348.16 997.71,344.45" fill="#ff0000" stroke="#000" stroke-width="0.85" stroke-linejoin="miter"/>
<polygon points="993.50,351.70 1013.50,341.45 1013.50,346.70 1033.50,346.70 1033.50,356.70 1013.50,356.70 1013.50,361.95" fill="#ff0000" stroke="#000" stroke-width="0.85" stroke-linejoin="miter"/>
</g>
<text x="51" y="413.7" text-anchor="end" class="ar" font-size="16.3" fill="#000">0</text>
<text x="51" y="366.4" text-anchor="end" class="ar" font-size="16.3" fill="#000">1</text>
<text x="51" y="319.0" text-anchor="end" class="ar" font-size="16.3" fill="#000">2</text>
<text x="51" y="271.7" text-anchor="end" class="ar" font-size="16.3" fill="#000">3</text>
<text x="51" y="224.4" text-anchor="end" class="ar" font-size="16.3" fill="#000">4</text>
<text x="51" y="177.0" text-anchor="end" class="ar" font-size="16.3" fill="#000">5</text>
<text x="51" y="129.7" text-anchor="end" class="ar" font-size="16.3" fill="#000">6</text>
<text x="1028.6" y="413.7" class="ar" font-size="16.3" fill="#000">0</text>
<text x="1028.6" y="366.4" class="ar" font-size="16.3" fill="#000">5</text>
<text x="1028.6" y="319.0" class="ar" font-size="16.3" fill="#000">10</text>
<text x="1028.6" y="271.7" class="ar" font-size="16.3" fill="#000">15</text>
<text x="1028.6" y="224.4" class="ar" font-size="16.3" fill="#000">20</text>
<text x="1028.6" y="177.0" class="ar" font-size="16.3" fill="#000">25</text>
<text x="1028.6" y="129.7" class="ar" font-size="16.3" fill="#000">30</text>
<text transform="translate(20.2,267.2) rotate(-90)" text-anchor="middle" class="ar" font-size="23.6" textLength="221.6" lengthAdjust="spacingAndGlyphs" fill="#000">Wave Height - Metres</text>
<text transform="translate(1059,264.7) rotate(90)" text-anchor="middle" class="ar" font-size="23.6" textLength="204.2" lengthAdjust="spacingAndGlyphs" fill="#000">Wind Speed - Knots</text>
<text x="128.5" y="435.3" text-anchor="middle" class="ar" font-size="16.5" textLength="69.2" lengthAdjust="spacingAndGlyphs" fill="#000">Thursday</text>
<text x="265.4" y="435.3" text-anchor="middle" class="ar" font-size="16.5" textLength="44.8" lengthAdjust="spacingAndGlyphs" fill="#000">Friday</text>
<text x="404.2" y="435.3" text-anchor="middle" class="ar" font-size="16.5" font-weight="bold" textLength="69.3" lengthAdjust="spacingAndGlyphs" fill="#000">Saturday</text>
<text x="540.2" y="435.3" text-anchor="middle" class="ar" font-size="16.5" font-weight="bold" textLength="57.3" lengthAdjust="spacingAndGlyphs" fill="#000">Sunday</text>
<text x="674.4" y="435.3" text-anchor="middle" class="ar" font-size="16.5" textLength="58.1" lengthAdjust="spacingAndGlyphs" fill="#000">Monday</text>
<text x="811.4" y="435.3" text-anchor="middle" class="ar" font-size="16.5" textLength="62.6" lengthAdjust="spacingAndGlyphs" fill="#000">Tuesday</text>
<text x="946.4" y="435.3" text-anchor="middle" class="ar" font-size="16.5" textLength="86.2" lengthAdjust="spacingAndGlyphs" fill="#000">Wednesday</text>
<text x="129.2" y="459.2" text-anchor="middle" font-size="17.7" textLength="45.2" lengthAdjust="spacingAndGlyphs" fill="#808080">22nd</text>
<text x="266.8" y="459.2" text-anchor="middle" font-size="17.7" textLength="41.7" lengthAdjust="spacingAndGlyphs" fill="#808080">23rd</text>
<text x="403.0" y="459.2" text-anchor="middle" font-size="17.7" textLength="41.4" lengthAdjust="spacingAndGlyphs" fill="#808080">24th</text>
<text x="539.2" y="459.2" text-anchor="middle" font-size="17.7" textLength="41.4" lengthAdjust="spacingAndGlyphs" fill="#808080">25th</text>
<text x="676.3" y="459.2" text-anchor="middle" font-size="17.7" textLength="41.6" lengthAdjust="spacingAndGlyphs" fill="#808080">26th</text>
<text x="812.1" y="459.2" text-anchor="middle" font-size="17.7" textLength="41.6" lengthAdjust="spacingAndGlyphs" fill="#808080">27th</text>
<text x="949.0" y="459.2" text-anchor="middle" font-size="17.7" textLength="41.6" lengthAdjust="spacingAndGlyphs" fill="#808080">28th</text>
</svg></body></html>
